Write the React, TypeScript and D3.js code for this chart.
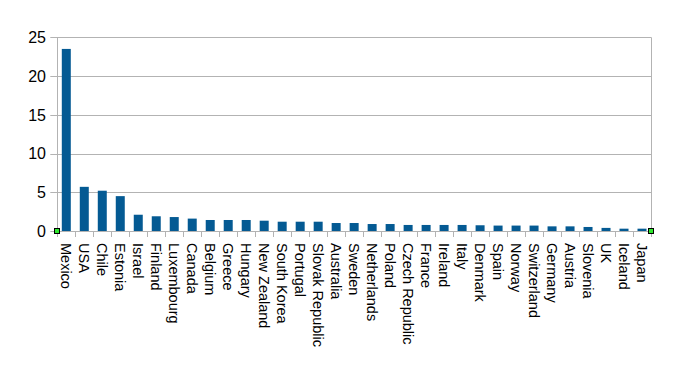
import { useEffect, useRef } from "react"
import * as d3 from "d3"

const countries = [
  "Mexico", "USA", "Chile", "Estonia", "Israel", "Finland", "Luxembourg", "Canada",
  "Belgium", "Greece", "Hungary", "New Zealand", "South Korea", "Portugal", "Slovak Republic",
  "Australia", "Sweden", "Netherlands", "Poland", "Czech Republic", "France", "Ireland",
  "Italy", "Denmark", "Spain", "Norway", "Switzerland", "Germany", "Austria", "Slovenia",
  "UK", "Iceland", "Japan",
]

const values = [
  23.5, 5.7, 5.2, 4.5, 2.1, 1.9, 1.8, 1.6,
  1.42, 1.42, 1.42, 1.33, 1.2, 1.2, 1.2,
  1.03, 1.03, 0.9, 0.9, 0.78, 0.78, 0.78,
  0.78, 0.74, 0.7, 0.7, 0.7, 0.6, 0.6, 0.52,
  0.4, 0.3, 0.3,
]

const yTicks = [0, 5, 10, 15, 20, 25]

export default function App() {
  const svgRef = useRef<SVGSVGElement>(null)

  useEffect(() => {
    if (!svgRef.current) return
    const svg = d3.select(svgRef.current)
    svg.selectAll("*").remove()

    const left = 57.3
    const right = 651
    const top = 37.3
    const bottom = 231
    const font = "'Liberation Sans', Arial, sans-serif"

    const x = d3.scaleBand<string>().domain(countries).range([left, right]).padding(0)
    const y = d3.scaleLinear().domain([0, 25]).range([bottom, top])
    const bw = x.bandwidth()

    // gridlines + y ticks
    svg.append("g")
      .selectAll("line")
      .data(yTicks)
      .join("line")
      .attr("x1", left - 7)
      .attr("x2", right)
      .attr("y1", (d) => Math.round(y(d)) + 0.5)
      .attr("y2", (d) => Math.round(y(d)) + 0.5)
      .attr("stroke", "#b3b3b3")
      .attr("stroke-width", 1)

    // vertical frame lines
    svg.append("line")
      .attr("x1", Math.round(left) + 0.5).attr("x2", Math.round(left) + 0.5)
      .attr("y1", top).attr("y2", bottom)
      .attr("stroke", "#b3b3b3")
    svg.append("line")
      .attr("x1", Math.round(right) + 0.5).attr("x2", Math.round(right) + 0.5)
      .attr("y1", top).attr("y2", bottom)
      .attr("stroke", "#b3b3b3")

    // x ticks at category boundaries
    const bounds = countries.map((c) => x(c) as number).concat([right])
    svg.append("g")
      .selectAll("line")
      .data(bounds)
      .join("line")
      .attr("x1", (d) => Math.round(d) + 0.5)
      .attr("x2", (d) => Math.round(d) + 0.5)
      .attr("y1", bottom)
      .attr("y2", bottom + 6)
      .attr("stroke", "#b3b3b3")

    // y labels
    svg.append("g")
      .selectAll("text")
      .data(yTicks)
      .join("text")
      .attr("x", 46)
      .attr("y", (d) => y(d))
      .attr("dy", "0.36em")
      .attr("text-anchor", "end")
      .attr("font-family", font)
      .attr("font-size", 16)
      .attr("fill", "#000")
      .text((d) => d)

    // bars
    svg.append("g")
      .selectAll("rect")
      .data(countries)
      .join("rect")
      .attr("x", (d) => (x(d) as number) + bw * 0.25)
      .attr("width", bw * 0.5)
      .attr("y", (_, i) => y(values[i]))
      .attr("height", (_, i) => bottom - y(values[i]))
      .attr("fill", "#045a93")

    // x labels, rotated
    svg.append("g")
      .selectAll("text")
      .data(countries)
      .join("text")
      .attr("transform", (d) => `translate(${(x(d) as number) + bw / 2},${bottom + 12}) rotate(90)`)
      .attr("dy", "0.36em")
      .attr("font-family", font)
      .attr("font-size", 14.5)
      .attr("fill", "#000")
      .text((d) => d)

    // selection handles
    svg.append("g")
      .selectAll("rect")
      .data([left, right])
      .join("rect")
      .attr("x", (d) => Math.round(d) - 2.5)
      .attr("y", bottom - 2.5)
      .attr("width", 5)
      .attr("height", 5)
      .attr("fill", "#2ee62e")
      .attr("stroke", "#000")
      .attr("stroke-width", 1)
  }, [])

  return (
    <svg
      ref={svgRef}
      width={675}
      height={370}
      style={{ position: "absolute", left: 0, top: 0, background: "#fff" }}
    />
  )
}
